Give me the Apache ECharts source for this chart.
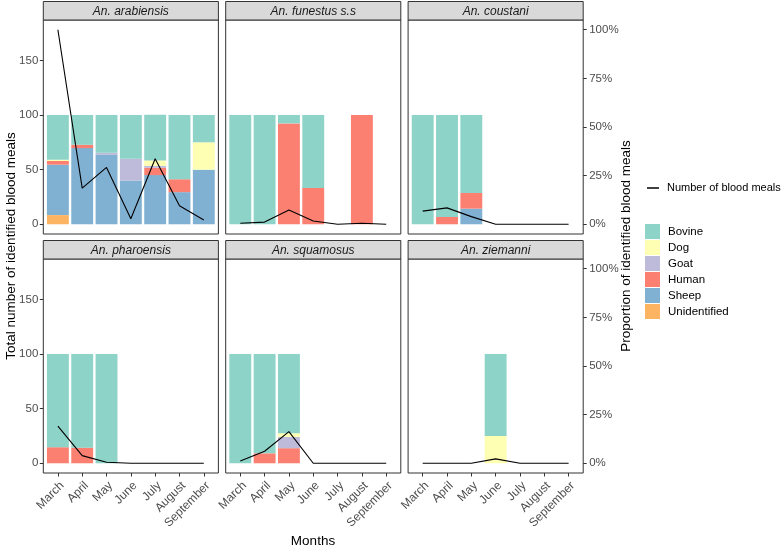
<!DOCTYPE html>
<html><head><meta charset="utf-8">
<script src="https://cdn.jsdelivr.net/npm/echarts@6/dist/echarts.min.js"></script>
<style>html,body{margin:0;padding:0;background:#fff}#c{width:784px;height:551px}</style>
</head><body><div id="c"></div>
<script>
// ---- data ----
const months = ['March','April','May','June','July','August','September'];
const speciesNames = ['An. arabiensis','An. funestus s.s','An. coustani','An. pharoensis','An. squamosus','An. ziemanni'];
const hostNames = ['Bovine','Dog','Goat','Human','Sheep','Unidentified'];
const hostColors = ['#8DD3C7','#FFFFB3','#BEBADA','#FB8072','#80B1D3','#FDB462'];
const leftTicks = [0,50,100,150];
const rightTicks = [0,25,50,75,100];

// number of blood meals per month
const arabiensisMeals = [178,33,52,5,60,17,4];
const funestusMeals   = [1,2,13,3,0,1,0];
const coustaniMeals   = [12,15,7,0,0,0,0];
const pharoensisMeals = [34,7,1,0,0,0,0];
const squamosusMeals  = [2,11,29,0,0,0,0];
const ziemanniMeals   = [0,0,0,4,0,0,0];

// host proportions (%) per month
const arabiensisBovine = [41.0,27.3,34.6,40.0,41.7,58.8,25.0];
const arabiensisDog    = [1.1,0,0,0,5.0,0,25.0];
const arabiensisGoat   = [0,0,1.9,20.0,1.7,0,0];
const arabiensisHuman  = [3.4,3.0,0,0,6.7,11.8,0];
const arabiensisSheep  = [46.1,69.7,63.5,40.0,45.0,29.4,50.0];
const arabiensisUnidentified = [8.4,0,0,0,0,0,0];

const funestusBovine = [100,100,7.7,66.7,0,0,0];
const funestusHuman  = [0,0,92.3,33.3,0,100,0];

const coustaniBovine = [100,93.3,71.4,0,0,0,0];
const coustaniHuman  = [0,6.7,14.3,0,0,0,0];
const coustaniSheep  = [0,0,14.3,0,0,0,0];

const pharoensisBovine = [85.3,85.7,100,0,0,0,0];
const pharoensisHuman  = [14.7,14.3,0,0,0,0,0];

const squamosusBovine = [100,90.9,72.4,0,0,0,0];
const squamosusDog    = [0,0,3.4,0,0,0,0];
const squamosusGoat   = [0,0,10.3,0,0,0,0];
const squamosusHuman  = [0,9.1,13.8,0,0,0,0];

const ziemanniBovine = [0,0,0,75,0,0,0];
const ziemanniDog    = [0,0,0,25,0,0,0];

const panels = [
  {meals: arabiensisMeals, hosts: {Bovine: arabiensisBovine, Dog: arabiensisDog, Goat: arabiensisGoat, Human: arabiensisHuman, Sheep: arabiensisSheep, Unidentified: arabiensisUnidentified}},
  {meals: funestusMeals, hosts: {Bovine: funestusBovine, Human: funestusHuman}},
  {meals: coustaniMeals, hosts: {Bovine: coustaniBovine, Human: coustaniHuman, Sheep: coustaniSheep}},
  {meals: pharoensisMeals, hosts: {Bovine: pharoensisBovine, Human: pharoensisHuman}},
  {meals: squamosusMeals, hosts: {Bovine: squamosusBovine, Dog: squamosusDog, Goat: squamosusGoat, Human: squamosusHuman}},
  {meals: ziemanniMeals, hosts: {Bovine: ziemanniBovine, Dog: ziemanniDog}}
];

// ---- layout ----
const FONT = '"Liberation Sans", Arial, Helvetica, sans-serif';
const panelLeft = [43.3, 225.7, 408.1];
const panelW = 175.1;
const panelTop = [20, 259];
const panelH = 214;
const stripH = 18.5;
const yMin = -8.9, yMax = 186.9;
const band = panelW / 7.2;
const TICK = 11.5;

const grid = [], xAxis = [], yAxis = [], series = [], graphic = [];

panels.forEach((p, i) => {
  const r = Math.floor(i / 3), c = i % 3;
  const L = panelLeft[c], T = panelTop[r];
  const fi = grid.length;
  // frame grid (panel border + secondary axes)
  grid.push({left: L, top: T, width: panelW, height: panelH, show: true,
    borderColor: '#333333', borderWidth: 1, backgroundColor: '#fff', outerBoundsMode: 'none', z: 0});
  xAxis.push({gridIndex: fi, type: 'value', min: 0, max: 1, show: false});
  if (c === 0) {
    yAxis.push({gridIndex: fi, type: 'value', min: yMin, max: yMax, position: 'left',
      axisLine: {show: false, onZero: false}, splitLine: {show: false},
      axisTick: {show: true, length: 3.5, customValues: leftTicks, lineStyle: {color: '#333333', width: 1}},
      axisLabel: {show: true, customValues: leftTicks, margin: 5, fontSize: TICK, color: '#4d4d4d', fontFamily: FONT}});
  } else if (c === 2) {
    yAxis.push({gridIndex: fi, type: 'value', min: -5, max: 105, position: 'right',
      axisLine: {show: false, onZero: false}, splitLine: {show: false},
      axisTick: {show: true, length: 3.5, customValues: rightTicks, lineStyle: {color: '#333333', width: 1}},
      axisLabel: {show: true, customValues: rightTicks, margin: 6, fontSize: TICK, color: '#4d4d4d', fontFamily: FONT,
        formatter: v => v + '%'}});
  } else {
    yAxis.push({gridIndex: fi, type: 'value', min: yMin, max: yMax, show: false});
  }
  // data grid
  const di = grid.length;
  grid.push({left: L + 0.1 * band, top: T, width: panelW - 0.2 * band, height: panelH, show: false, outerBoundsMode: 'none'});
  if (r === 1) {
    xAxis.push({gridIndex: di, type: 'category', data: months, boundaryGap: true,
      axisLine: {show: false, onZero: false}, splitLine: {show: false},
      axisTick: {show: true, alignWithLabel: true, length: 3.5, lineStyle: {color: '#333333', width: 1}},
      axisLabel: {show: true, rotate: 45, interval: 0, margin: 6.5, fontSize: 12, color: '#4d4d4d', fontFamily: FONT,
        align: 'right', verticalAlign: 'top'}});
  } else {
    xAxis.push({gridIndex: di, type: 'category', data: months, boundaryGap: true, show: false});
  }
  yAxis.push({gridIndex: di, type: 'value', min: yMin, max: yMax, show: false});

  // stacked bars: bottom to top = Unidentified ... Bovine
  for (let h = hostNames.length - 1; h >= 0; h--) {
    const name = hostNames[h];
    if (!p.hosts[name]) continue;
    series.push({type: 'bar', name, xAxisIndex: di, yAxisIndex: di, stack: 'p' + i,
      data: p.hosts[name], barWidth: '90%', itemStyle: {color: hostColors[h]},
      emphasis: {disabled: true}, z: 2});
  }
  series.push({type: 'line', name: 'Number of blood meals', xAxisIndex: di, yAxisIndex: di,
    data: p.meals, showSymbol: false, symbol: 'none',
    lineStyle: {color: '#000', width: 1.1}, itemStyle: {color: '#000'}, z: 5, emphasis: {disabled: true}});

  // strip
  graphic.push({type: 'rect', shape: {x: L, y: T - stripH, width: panelW, height: stripH},
    style: {fill: '#d9d9d9', stroke: '#333333', lineWidth: 1}, z: 10});
  graphic.push({type: 'text', x: L + panelW / 2, y: T - stripH / 2 + 0.5,
    style: {text: speciesNames[i], fill: '#1a1a1a', fontSize: 12, fontStyle: 'italic', fontFamily: FONT,
      textAlign: 'center', textVerticalAlign: 'middle'}, z: 11});
});

// axis titles
graphic.push({type: 'text', x: 11, y: 246, rotation: Math.PI / 2,
  style: {text: 'Total number of identified blood meals', fill: '#000', fontSize: 13.5, fontFamily: FONT,
    textAlign: 'center', textVerticalAlign: 'middle'}});
graphic.push({type: 'text', x: 626, y: 246, rotation: Math.PI / 2,
  style: {text: 'Proportion of identified blood meals', fill: '#000', fontSize: 13.5, fontFamily: FONT,
    textAlign: 'center', textVerticalAlign: 'middle'}});
graphic.push({type: 'text', x: 313, y: 541,
  style: {text: 'Months', fill: '#000', fontSize: 13.5, fontFamily: FONT,
    textAlign: 'center', textVerticalAlign: 'middle'}});

const option = {
  animation: false,
  textStyle: {fontFamily: FONT},
  grid, xAxis, yAxis, series, graphic,
  legend: [
    {data: [{name: 'Number of blood meals', icon: 'rect'}], left: 647, top: 182.5, padding: 0,
      itemWidth: 12, itemHeight: 1.5, selectedMode: false,
      textStyle: {fontSize: 11, color: '#000', fontFamily: FONT, padding: [0, 0, 0, 3]}},
    {data: hostNames.map(n => ({name: n, icon: 'rect'})), orient: 'vertical', left: 645, top: 224, padding: 0,
      itemWidth: 15, itemHeight: 15, itemGap: 1, selectedMode: false,
      textStyle: {fontSize: 11.5, color: '#000', fontFamily: FONT, padding: [0, 0, 0, 3]}}
  ]
};
const chart = echarts.init(document.getElementById('c'), null, {renderer: 'canvas'});
chart.setOption(option);
</script>
</body></html>
